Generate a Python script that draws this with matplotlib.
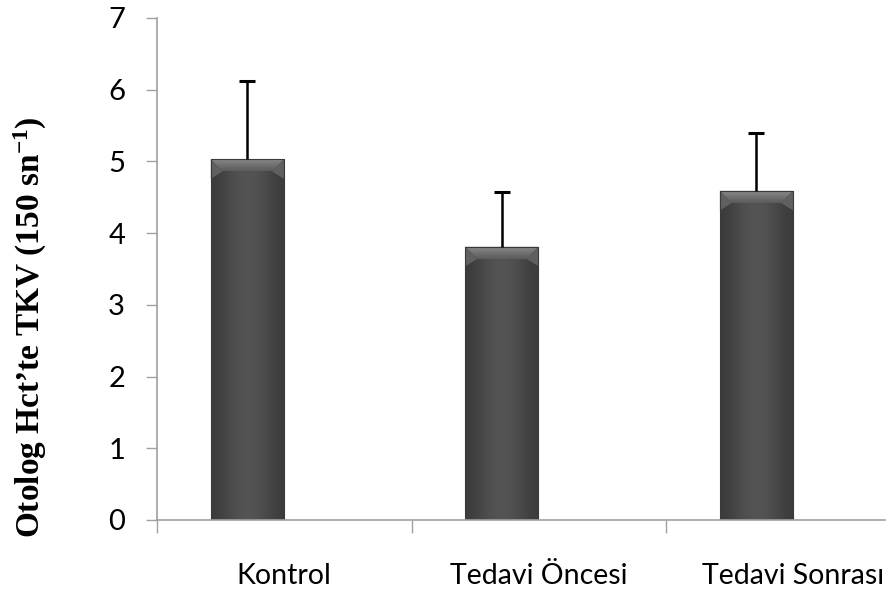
import numpy as np
import matplotlib
matplotlib.use("Agg")
import matplotlib.pyplot as plt
from matplotlib.patches import Polygon
from matplotlib.colors import LinearSegmentedColormap

# data
categories = ["Kontrol", "Tedavi Öncesi", "Tedavi Sonrası"]
means = [5.03, 3.81, 4.59]
errors = [1.09, 0.76, 0.80]
yticks = [0, 1, 2, 3, 4, 5, 6, 7]

plt.rcParams["mathtext.fontset"] = "custom"
plt.rcParams["mathtext.rm"] = "Liberation Serif:bold"
plt.rcParams["mathtext.it"] = "Liberation Serif:bold"
plt.rcParams["mathtext.bf"] = "Liberation Serif:bold"

fig = plt.figure(figsize=(8.88, 5.97), dpi=100)
ax = fig.add_axes([157 / 888, 77 / 597, 728 / 888, 502 / 597])

x = np.arange(len(categories))
offset = -0.145
width = 0.287
bx = x + offset

bars = ax.bar(bx, means, width=width, color="#4e4e4e", edgecolor="none", zorder=2)

# soft horizontal shading + top bevel on each bar
cmap = LinearSegmentedColormap.from_list("g", ["#3c3c3c", "#545454"])
grad = np.array([[0.0, 0.6, 1.0, 1.0, 0.6, 0.0]])
for b in bars:
    x0, w, h = b.get_x(), b.get_width(), b.get_height()
    im = ax.imshow(grad, cmap=cmap, aspect="auto", extent=[x0, x0 + w, 0, h],
                   zorder=2.1, interpolation="bicubic")
    im.set_clip_path(b)
    bev = 0.17
    dx = w * 0.16
    vg = np.linspace(1, 0, 20).reshape(-1, 1)
    top = Polygon([[x0, h], [x0 + w, h], [x0 + w - dx, h - bev], [x0 + dx, h - bev]],
                  closed=True, facecolor="none", edgecolor="none", zorder=2.2)
    ax.add_patch(top)
    imt = ax.imshow(vg, cmap=LinearSegmentedColormap.from_list("t", ["#5c5c5c", "#8a8a8a"]),
                    aspect="auto", extent=[x0, x0 + w, h - bev, h], zorder=2.2,
                    interpolation="bicubic")
    imt.set_clip_path(top)
    for side in (1, -1):
        xe = x0 if side == 1 else x0 + w
        ax.add_patch(Polygon([[xe, h], [xe + side * dx, h - bev], [xe, h - bev * 1.6]],
                             closed=True, facecolor="#606060", edgecolor="none", zorder=2.2))
    ax.add_patch(Polygon([[x0, 0], [x0 + w, 0], [x0 + w, h], [x0, h]], closed=True,
                         facecolor="none", edgecolor="#3a3a3a", linewidth=0.8, zorder=2.3))

# upper error bars only
tops = np.array(means) + np.array(errors)
ax.vlines(bx, means, tops, color="black", linewidth=1.8, zorder=3)
ax.plot(bx, tops, ls="none", marker="_", ms=11, mew=2.2, color="black", zorder=3)

ax.set_xlim(-0.5, 2.36)
ax.set_ylim(0, 7)
ax.set_yticks(yticks)

ax.set_xticks(x)
ax.set_xticklabels(categories, fontsize=20.5, family="Lato")
ax.set_xticks([-0.5, 0.5, 1.5], minor=True)
ax.tick_params(axis="x", which="major", length=0, pad=31)
ax.tick_params(axis="x", which="minor", length=9, color="#a0a0a0", width=1)
ax.tick_params(axis="y", length=8, color="#a0a0a0", width=1, pad=15)
for lab in ax.get_yticklabels():
    lab.set_fontsize(21)
    lab.set_family("Lato")

for s in ["top", "right"]:
    ax.spines[s].set_visible(False)
for s in ["left", "bottom"]:
    ax.spines[s].set_color("#a0a0a0")
    ax.spines[s].set_linewidth(1.2)

fig.text(30 / 888, 1 - 327 / 597, "Otolog Hct’te TKV (150 sn$^{−1}$)",
         rotation=90, ha="center", va="center", fontsize=24,
         family="Liberation Serif", weight="bold")

fig.savefig("out.png", dpi=100)
